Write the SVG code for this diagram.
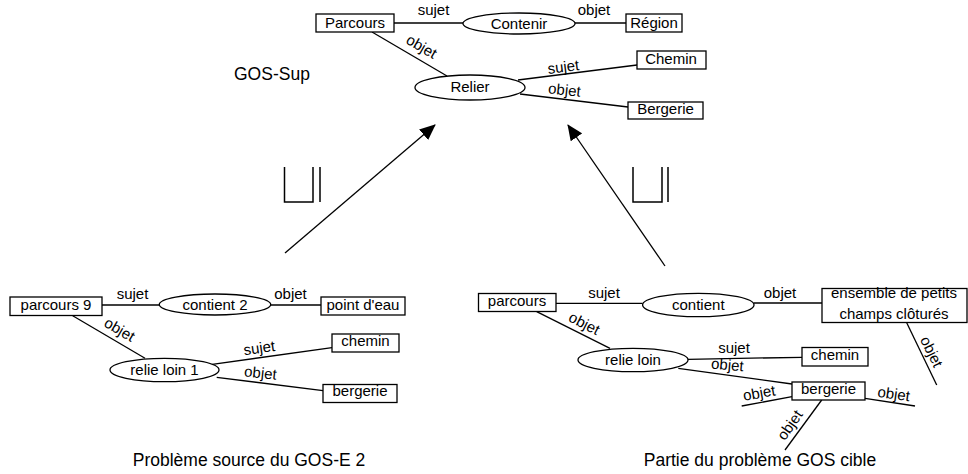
<svg xmlns="http://www.w3.org/2000/svg" width="968" height="474" viewBox="0 0 968 474">
<style>
text{font-family:"Liberation Sans",Arial,sans-serif;font-size:15px;fill:#000}
.n{text-anchor:middle}
.cap{font-size:17.5px}
rect,ellipse{fill:#fff;stroke:#000;stroke-width:1.3}
.e line,.e path{stroke:#000;stroke-width:1.3;fill:none}
.a{stroke:#000;stroke-width:1.6;fill:none}
.sym{stroke:#000;stroke-width:1.5;fill:none}
</style>
<defs>
<marker id="ah" viewBox="0 0 10 10" refX="9" refY="5" markerWidth="10" markerHeight="10" markerUnits="userSpaceOnUse" orient="auto">
<path d="M0,0 L10,5 L0,10 z" fill="#000"/>
</marker>
</defs>
<marker id="ahb" viewBox="0 0 16 14" refX="15" refY="7" markerWidth="16" markerHeight="14" markerUnits="userSpaceOnUse" orient="auto"><path d="M0,0 L16,7 L0,14 z" fill="#000"/></marker>

<g id="connectors" class="e">
<!-- top graph -->
<line x1="394" y1="23" x2="463" y2="23"/>
<line x1="575" y1="23" x2="626" y2="23"/>
<line x1="372" y1="32" x2="447" y2="76"/>
<line x1="518" y1="80" x2="637" y2="65"/>
<line x1="520" y1="94" x2="628" y2="107"/>
<!-- bottom-left -->
<line x1="102" y1="305" x2="159.5" y2="305"/>
<line x1="270.5" y1="305" x2="321" y2="305"/>
<line x1="72.7" y1="315.7" x2="145" y2="358.3"/>
<line x1="212.3" y1="364.3" x2="332" y2="347.7"/>
<line x1="216.7" y1="377.3" x2="323" y2="390.7"/>
<!-- bottom-right -->
<line x1="556" y1="303.3" x2="642.5" y2="303.3"/>
<line x1="754" y1="303" x2="822" y2="303"/>
<line x1="536.7" y1="311.7" x2="610" y2="348.3"/>
<line x1="688" y1="359.3" x2="802" y2="357.3"/>
<line x1="678.3" y1="368.3" x2="792" y2="384"/>
<line x1="792" y1="396.7" x2="741.7" y2="406"/>
<line x1="865" y1="398.3" x2="915" y2="406"/>
<line x1="821.7" y1="400" x2="785" y2="450"/>
<line x1="906.7" y1="322.7" x2="936.7" y2="385"/>
<!-- big arrows -->
<line class="a" x1="285" y1="253" x2="435" y2="125" marker-end="url(#ahb)"/>
<line class="a" x1="665" y1="266" x2="568" y2="125" marker-end="url(#ahb)"/>
<!-- edge labels top -->
<text x="433.5" y="15" class="n">sujet</text>
<text x="594" y="15" class="n">objet</text>
<text class="n" transform="translate(419,51) rotate(30)">objet</text>
<text class="n" transform="translate(564,72) rotate(-7)">sujet</text>
<text class="n" transform="translate(564,95) rotate(6)">objet</text>
<!-- edge labels bottom-left -->
<text x="132.5" y="299" class="n">sujet</text>
<text x="290.5" y="299" class="n">objet</text>
<text class="n" transform="translate(117,334) rotate(30)">objet</text>
<text class="n" transform="translate(260,353) rotate(-8)">sujet</text>
<text class="n" transform="translate(260,378) rotate(6)">objet</text>
<!-- edge labels bottom-right -->
<text x="604" y="298" class="n">sujet</text>
<text x="780" y="298" class="n">objet</text>
<text class="n" transform="translate(582,328) rotate(27)">objet</text>
<text x="734" y="353" class="n">sujet</text>
<text class="n" transform="translate(727,370) rotate(5)">objet</text>
<text class="n" transform="translate(760,398) rotate(-10)">objet</text>
<text class="n" transform="translate(893,399) rotate(8)">objet</text>
<text class="n" transform="translate(794,428) rotate(-55)">objet</text>
<text class="n" transform="translate(927,354) rotate(64)">objet</text>
</g>

<!-- top graph nodes -->
<g id="t-parcours"><rect x="316" y="14" width="78" height="18"/><text x="355" y="28" class="n">Parcours</text></g>
<g id="t-contenir"><ellipse cx="519" cy="23.5" rx="56" ry="10.5"/><text x="519" y="28.5" class="n">Contenir</text></g>
<g id="t-region"><rect x="626" y="14" width="56" height="18"/><text x="654" y="28" class="n">Région</text></g>
<g id="t-relier"><ellipse cx="470" cy="87.5" rx="55" ry="12.5"/><text x="470" y="91.5" class="n">Relier</text></g>
<g id="t-chemin"><rect x="637" y="51" width="69" height="18"/><text x="671" y="64" class="n">Chemin</text></g>
<g id="t-bergerie"><rect x="628" y="102" width="75" height="17"/><text x="665.5" y="114" class="n">Bergerie</text></g>
<g id="t-label"><text x="234" y="80" class="cap">GOS-Sup</text></g>

<!-- symbols -->
<g id="sym-left" class="sym"><path d="M284.5,167 V202 H313 V167 M320,167 V202"/></g>
<g id="sym-right" class="sym"><path d="M633,167 V202 H662 V167 M668,167 V202"/></g>

<!-- bottom-left nodes -->
<g id="l-parcours9"><rect x="10" y="297" width="92" height="18.5"/><text x="56" y="309.5" class="n">parcours 9</text></g>
<g id="l-contient2"><ellipse cx="215" cy="304.5" rx="55.7" ry="10.5"/><text x="215" y="309.5" class="n">contient 2</text></g>
<g id="l-pointdeau"><rect x="321" y="297" width="84" height="18"/><text x="363" y="309.5" class="n">point d'eau</text></g>
<g id="l-relieloin1"><ellipse cx="164.5" cy="370" rx="54.5" ry="11.7"/><text x="164.5" y="374.5" class="n">relie loin 1</text></g>
<g id="l-chemin"><rect x="332" y="334" width="67" height="18"/><text x="365.5" y="346" class="n">chemin</text></g>
<g id="l-bergerie"><rect x="323" y="384.5" width="74" height="18"/><text x="360" y="396" class="n">bergerie</text></g>
<g id="l-caption"><text x="249" y="466" class="n cap">Problème source du GOS-E 2</text></g>

<!-- bottom-right nodes -->
<g id="r-parcours"><rect x="478.5" y="293.5" width="77.5" height="18"/><text x="517" y="305.5" class="n">parcours</text></g>
<g id="r-contient"><ellipse cx="698.3" cy="305" rx="55.7" ry="11.7"/><text x="698.3" y="310" class="n">contient</text></g>
<g id="r-ensemble"><rect x="822" y="288.5" width="145" height="34"/><text x="894" y="298" class="n">ensemble de petits</text><text x="894" y="318.5" class="n">champs clôturés</text></g>
<g id="r-relieloin"><ellipse cx="633" cy="360" rx="55" ry="11.7"/><text x="633" y="365" class="n">relie loin</text></g>
<g id="r-chemin"><rect x="802" y="347.5" width="66" height="18.5"/><text x="835" y="359.5" class="n">chemin</text></g>
<g id="r-bergerie"><rect x="792" y="382" width="73" height="18"/><text x="828.5" y="394" class="n">bergerie</text></g>
<g id="r-caption"><text x="760" y="466" class="n cap">Partie du problème GOS cible</text></g>
</svg>
